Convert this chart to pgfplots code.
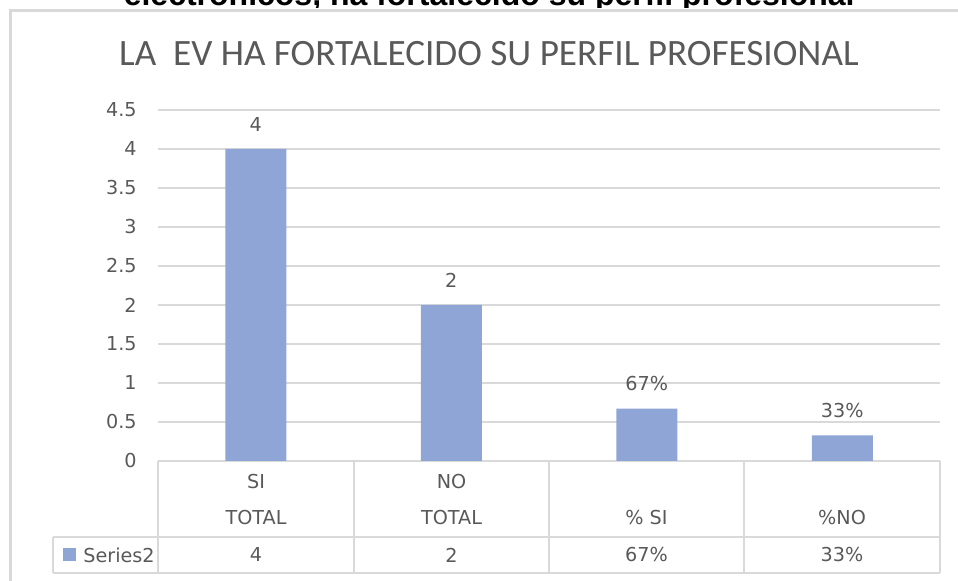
\documentclass[border=0pt]{standalone}
\usepackage{fontspec}
\setmainfont{DejaVu Sans}
\newfontfamily\titlefont{Carlito}
\newfontfamily\headfont{Liberation Sans}
\usepackage{pgfplots}
\pgfplotsset{compat=1.18}
\definecolor{barblue}{HTML}{8EA5D6}
\definecolor{txt}{HTML}{595959}
\definecolor{gridc}{HTML}{D9D9D9}

\begin{document}
\begin{tikzpicture}
% page in pixel units of the reference (1px = 0.5pt, y downward)
\begin{scope}[x=0.5pt,y=-0.5pt]
  \useasboundingbox (0,0) rectangle (958,581);
  \begin{scope}
    \clip (0,0) rectangle (958,7.5);
    \node[anchor=base east, inner sep=0pt, font=\headfont\bfseries\fontsize{16}{18}\selectfont]
      at (855,6) {electrónicos, ha fortalecido su perfil profesional};
  \end{scope}
  \draw[gridc, line width=1.5pt] (10,581) -- (10,11) -- (958,11);
  \node[anchor=base, inner sep=0pt, text=txt, font=\titlefont\fontsize{18.6}{20}\selectfont]
    at (489,66) {LA\ \ EV HA FORTALECIDO SU PERFIL PROFESIONAL};
  % data table below the plot
  \draw[gridc, line width=1pt]
    (158,461) -- (940,461) (53,537) -- (940,537) (53,573) -- (940,573)
    (53,537) -- (53,573) (158,461) -- (158,573) (354,461) -- (354,573)
    (549,461) -- (549,573) (744,461) -- (744,573) (940,461) -- (940,573);
  \begin{scope}[every node/.style={text=txt, inner sep=0pt, font=\fontsize{9.6}{11}\selectfont}]
    \node at (256,482) {SI};     \node at (256,518) {TOTAL};
    \node at (451.5,482) {NO};   \node at (451.5,518) {TOTAL};
    \node at (646.5,518) {\% SI}; \node at (842,518) {\%NO};
    \node at (256,555) {4};      \node at (451.5,555) {2};
    \node at (646.5,555) {67\%}; \node at (842,555) {33\%};
    \fill[barblue] (63,548) rectangle (76,561);
    \node[anchor=west] at (83,555) {Series2};
  \end{scope}
\end{scope}
\begin{axis}[at={(79pt,-230.5pt)}, anchor=south west, scale only axis,
    width=391pt, height=175.5pt, clip=false,
    xmin=-0.5, xmax=3.5, ymin=0, ymax=4.5,
    xtick=\empty, ytick={0,0.5,1,1.5,2,2.5,3,3.5,4,4.5},
    axis line style={draw=none}, major tick length=0pt,
    ymajorgrids, grid style={gridc, line width=1pt},
    /pgf/number format/assume math mode=true,
    yticklabel style={font=\fontsize{9.6}{11}\selectfont, text=txt, anchor=east, inner sep=0pt, xshift=-10.5pt},
    ybar, bar width=30.5pt,
    nodes near coords, point meta=explicit symbolic,
    every node near coord/.append style={font=\fontsize{9.6}{11}\selectfont, text=txt, anchor=center, yshift=12.4pt}]
  \addplot[fill=barblue, draw=none] coordinates {(0,4) [4] (1,2) [2] (2,0.67) [67\%] (3,0.33) [33\%]};
\end{axis}
\end{tikzpicture}
\end{document}
